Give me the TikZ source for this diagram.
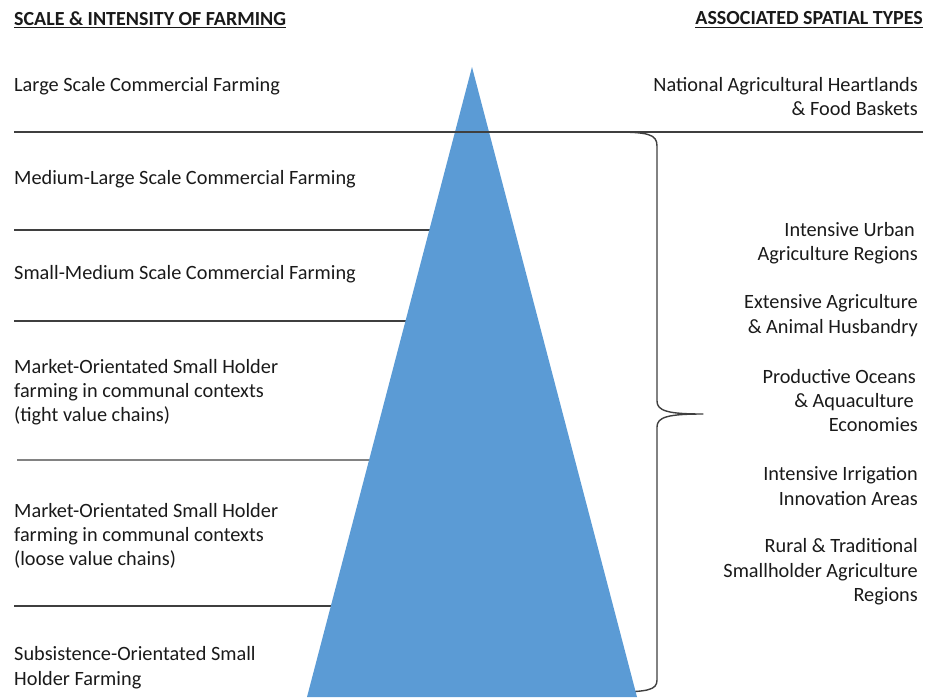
\documentclass[tikz,border=0pt]{standalone}
\usepackage{fontspec}
\setmainfont{Carlito}
\usetikzlibrary{calc}
\definecolor{pyramid}{HTML}{5B9BD5}
\definecolor{rulegray}{HTML}{3F3F3F}
\definecolor{ink}{HTML}{1A1A1A}
\begin{document}
\begin{tikzpicture}[x=1pt,y=-1pt,
  txt/.style={inner sep=0pt, text=ink, font=\fontsize{20.3}{24.3}\selectfont},
  lefttxt/.style={txt, anchor=north west, align=left, yshift=17.01pt},
  righttxt/.style={txt, anchor=north east, align=right, yshift=17.01pt},
  head/.style={inner sep=0pt, text=ink, font=\fontsize{20}{24.3}\selectfont\bfseries},
  sep/.style={draw=rulegray, line width=1.4pt},
  brace/.style={draw=rulegray, line width=1.4pt, line join=round, line cap=round}]

\useasboundingbox (0,0) rectangle (926,697);

% pyramid corners
\coordinate (apex) at (472,67);
\coordinate (bl) at (307,697);
\coordinate (br) at (637,697);
\coordinate (L) at (14,0);

% points on the left flank where the tier separators meet the pyramid
\coordinate (e1) at ($(apex)!{(230-67)/630}!(bl)$);
\coordinate (e2) at ($(apex)!{(321-67)/630}!(bl)$);
\coordinate (e3) at ($(apex)!{(460-67)/630}!(bl)$);
\coordinate (e4) at ($(apex)!{(606-67)/630}!(bl)$);

% right-hand brace grouping the spatial types
\coordinate (bt) at (612,132);
\coordinate (bb) at (612,692);
\coordinate (tip) at (703,414);
\draw[brace] (bt) .. controls (648,132) and (657,134) .. (657,146)
  -- (657,401) .. controls (657,411) and (668,414) .. (tip)
  .. controls (668,414) and (657,417) .. (657,427)
  -- (657,680) .. controls (657,690) and (648,692) .. (bb);

% tier separators
\draw[sep] (e1 -| L) -- ($(e1)+(3,0)$);
\draw[sep] (e2 -| L) -- ($(e2)+(3,0)$);
\draw[sep] (17,460) -- ($(e3)+(3,0)$);
\draw[sep] (e4 -| L) -- ($(e4)+(3,0)$);

% pyramid
\fill[pyramid] (apex) -- (bl) -- (br) -- cycle;

% top separator runs across the whole width
\draw[sep] (14,132) -- (923,132);

% column headings
\node[head, anchor=base west] (hl) at (14,25) {SCALE \& INTENSITY OF FARMING};
\draw[ink, line width=1.3pt] ($(hl.base west)+(0,2.8)$) -- ($(hl.base east)+(0,2.8)$);
\node[head, anchor=base east] (hr) at (923,24.5) {ASSOCIATED SPATIAL TYPES};
\draw[ink, line width=1.3pt] ($(hr.base west)+(0,2.8)$) -- ($(hr.base east)+(0,2.8)$);

% farming scale tiers (each block's first line carries a strut so the
% given coordinate is the first baseline)
\node[lefttxt] (s1) at (14,91) {\strut Large Scale Commercial Farming};
\node[lefttxt] (s2) at (14,184.5) {\strut Medium-Large Scale Commercial Farming};
\node[lefttxt] (s3) at (14,279.5) {\strut Small-Medium Scale Commercial Farming};
\node[lefttxt] (s4) at (14,373) {\strut Market-Orientated Small Holder\\farming in communal contexts\\(tight value chains)};
\node[lefttxt] (s5) at (14,517) {\strut Market-Orientated Small Holder\\farming in communal contexts\\(loose value chains)};
\node[lefttxt] (s6) at (14,660.5) {\strut Subsistence-Orientated Small\\Holder Farming};

% spatial types
\node[righttxt] (t1) at (918,91) {\strut National Agricultural Heartlands\\\& Food Baskets};
\node[righttxt] (t2) at (918,236) {\strut Intensive Urban\kern3pt\\Agriculture Regions};
\node[righttxt] (t3) at (918,308.5) {\strut Extensive Agriculture\\\& Animal Husbandry};
\node[righttxt] (t4) at (918,383) {\strut Productive Oceans\kern2pt\\\& Aquaculture\kern4pt\\Economies};
\node[righttxt] (t5) at (918,480.5) {\strut Intensive Irrigation\\Innovation Areas};
\node[righttxt] (t6) at (918,552.5) {\strut Rural \& Traditional\\Smallholder Agriculture\\Regions};

\end{tikzpicture}
\end{document}
